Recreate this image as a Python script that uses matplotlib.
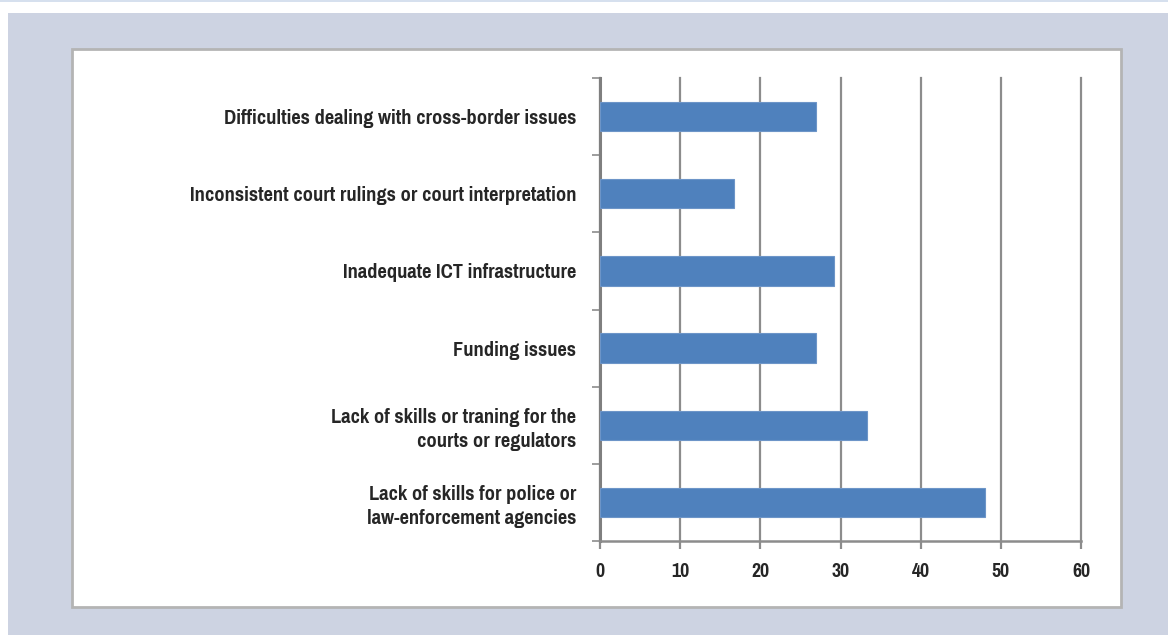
import matplotlib.pyplot as plt
from matplotlib.patches import Rectangle
import numpy as np

categories = [
    "Lack of skills for police or\nlaw-enforcement agencies",
    "Lack of skills or traning for the\ncourts or regulators",
    "Funding issues",
    "Inadequate ICT infrastructure",
    "Inconsistent court rulings or court interpretation",
    "Difficulties dealing with cross-border issues",
]
values = [48, 33.3, 27, 29.2, 16.7, 27]
x_ticks = [0, 10, 20, 30, 40, 50, 60]

W, H = 1168, 635
fig = plt.figure(figsize=(W / 100, H / 100), dpi=100)
fig.patch.set_facecolor("white")

# outer blue-grey frame and white inner panel
fig.patches.append(Rectangle((8 / W, 0), 1 - 8 / W, 1 - 13 / H, transform=fig.transFigure,
                             facecolor="#cdd3e2", edgecolor="none", zorder=0))
fig.patches.append(Rectangle((0, 1 - 2 / H), 1, 2 / H, transform=fig.transFigure,
                             facecolor="#d6e0ee", edgecolor="none", zorder=0))
fig.patches.append(Rectangle((72 / W, 1 - 607 / H), (1121 - 72) / W, (607 - 49) / H,
                             transform=fig.transFigure, facecolor="white",
                             edgecolor="#b4b4b4", linewidth=2, zorder=1))

ax = fig.add_axes([600 / W, 1 - 541 / H, (1081 - 600) / W, (541 - 78) / H])
ax.set_zorder(2)
ax.set_facecolor("none")

y = np.arange(len(categories))
ax.barh(y, values, height=0.38, color="#4f81bd", edgecolor="#6d95c8", linewidth=0.8, zorder=3)

ax.set_xlim(0, 60)
ax.set_ylim(-0.5, len(categories) - 0.5)
ax.set_xticks(x_ticks)
ax.xaxis.grid(True, color="#8c8c8c", linewidth=1.6, zorder=0)
ax.set_axisbelow(True)
for gl in ax.get_xgridlines():
    gl.set_clip_on(False)

font = dict(family=["Pragati Narrow", "Fira Sans Condensed", "DejaVu Sans"],
            fontweight="bold", color="#262626")
ax.set_yticks(y)
ax.set_yticklabels(categories, fontsize=16, linespacing=1.3, **font)
ax.set_yticks(np.arange(-0.5, len(categories)), minor=True)
ax.tick_params(axis="y", which="major", length=0, pad=17)
ax.tick_params(axis="y", which="minor", length=6, width=1.2, color="#8c8c8c")
ax.set_xticklabels([str(t) for t in x_ticks], fontsize=15.5, **font)
ax.tick_params(axis="x", length=6, width=1.6, color="#8c8c8c", pad=9)

for s in ["top", "right"]:
    ax.spines[s].set_visible(False)
ax.spines["left"].set_color("#7f7f7f")
ax.spines["left"].set_linewidth(2.2)
ax.spines["bottom"].set_color("#8c8c8c")
ax.spines["bottom"].set_linewidth(1.8)

fig.savefig("out.png", dpi=100)
